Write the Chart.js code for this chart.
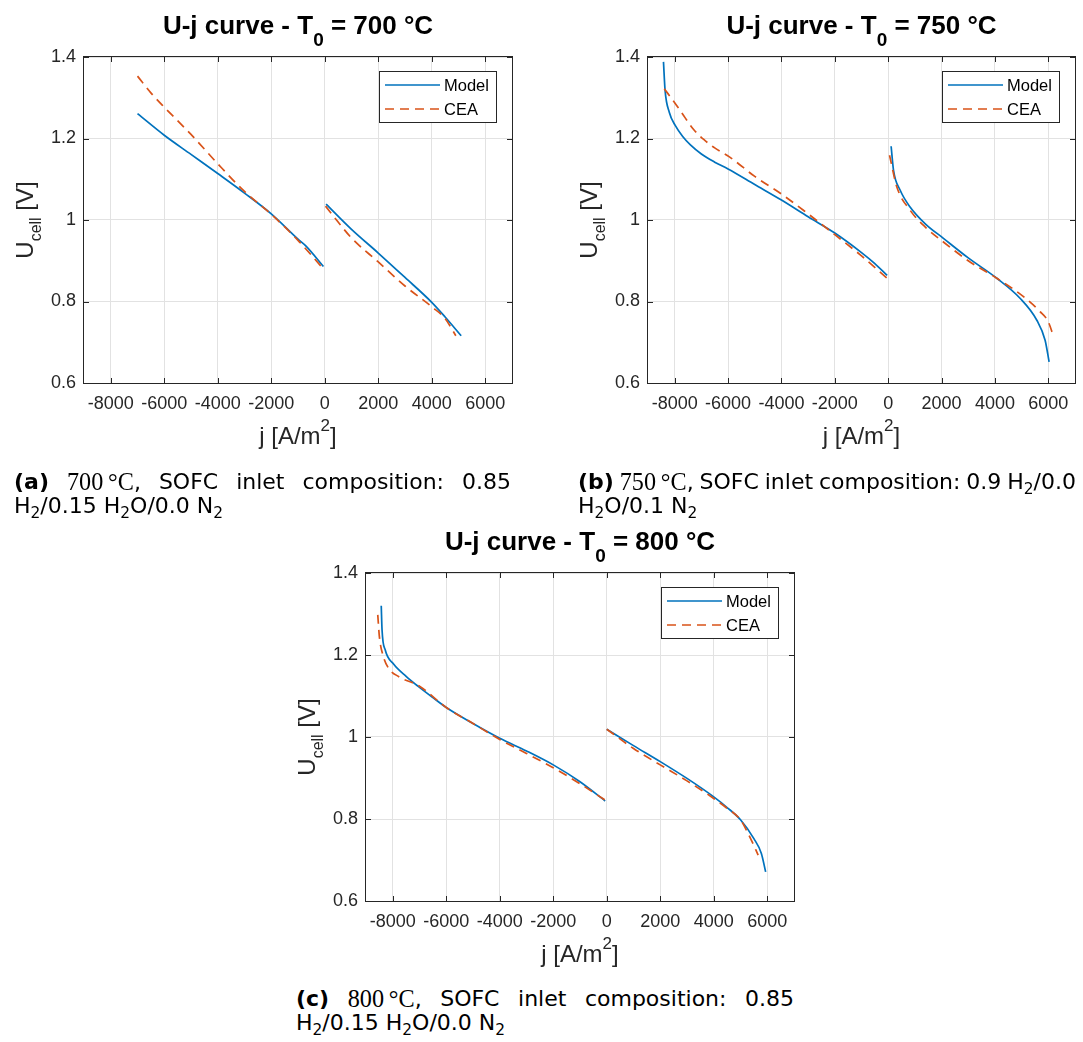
<!DOCTYPE html>
<html>
<head>
<meta charset="utf-8">
<script src="https://cdn.jsdelivr.net/npm/chart.js@4.4.1/dist/chart.umd.min.js"></script>
<style>
  html, body { margin: 0; padding: 0; background: #fff; }
  #page { position: relative; width: 1083px; height: 1042px; overflow: hidden; }
  canvas { position: absolute; }
  .cap { position: absolute; font-family: "DejaVu Sans", sans-serif; font-size: 22px; line-height: 23px; color: #000; }
  .l1 { display: flex; justify-content: space-between; white-space: nowrap; }
  .serif { font-family: "Liberation Serif", serif; font-size: 1.1em; }
  sub { font-size: 0.7em; vertical-align: -0.3em; line-height: 0; }
</style>
</head>
<body>
<div id="page">
  <canvas id="chartA" width="540" height="460" style="left:0px;top:0px"></canvas>
  <canvas id="chartB" width="519" height="460" style="left:564px;top:0px"></canvas>
  <canvas id="chartC" width="540" height="460" style="left:282px;top:516px"></canvas>

  <div class="cap" style="left:14px;top:470px;width:497px">
    <div class="l1"><span><b>(a)</b></span><span><span class="serif">700&thinsp;°C</span>,</span><span>SOFC</span><span>inlet</span><span>composition:</span><span>0.85</span></div>
    <div>H<sub>2</sub>/0.15 H<sub>2</sub>O/0.0 N<sub>2</sub></div>
  </div>
  <div class="cap" style="left:578px;top:470px;width:498px">
    <div class="l1"><span><b>(b)</b></span><span><span class="serif">750&thinsp;°C</span>,</span><span>SOFC</span><span>inlet</span><span>composition:</span><span>0.9</span><span>H<sub>2</sub>/0.0</span></div>
    <div>H<sub>2</sub>O/0.1 N<sub>2</sub></div>
  </div>
  <div class="cap" style="left:296px;top:987px;width:498px">
    <div class="l1"><span><b>(c)</b></span><span><span class="serif">800&thinsp;°C</span>,</span><span>SOFC</span><span>inlet</span><span>composition:</span><span>0.85</span></div>
    <div>H<sub>2</sub>/0.15 H<sub>2</sub>O/0.0 N<sub>2</sub></div>
  </div>
</div>

<script>
const xTicks = [-8000, -6000, -4000, -2000, 0, 2000, 4000, 6000];
const yTicks = [0.6, 0.8, 1, 1.2, 1.4];
const xMin = -9000;
const xMax = 7000;
const seriesNames = ["Model", "CEA"];
const temps = [700, 750, 800];

// 700 °C  (null = hueco entre rama negativa y positiva)
const j700Model = [-7000, -6000, -5000, -4000, -3000, -2000, -1000, -700, -50, null, 50, 1000, 2000, 3000, 4000, 4500, 5100];
const u700Model = [1.261, 1.208, 1.161, 1.114, 1.066, 1.015, 0.953, 0.936, 0.886, null, 1.039, 0.977, 0.919, 0.859, 0.798, 0.762, 0.716];
const j700Cea = [-7000, -6500, -6000, -5000, -4000, -3000, -2000, -1000, -50, null, 30, 500, 1000, 2000, 3000, 4000, 4500, 4900];
const u700Cea = [1.353, 1.312, 1.277, 1.210, 1.138, 1.070, 1.014, 0.950, 0.880, null, 1.034, 0.995, 0.956, 0.897, 0.838, 0.787, 0.758, 0.716];

// 750 °C
const j750Model = [-8420, -8360, -8200, -7980, -7700, -7420, -7000, -6500, -6000, -5000, -4000, -3000, -2000, -1000, -500, -40, null, 110, 200, 450, 820, 1400, 2070, 3000, 4070, 4940, 5570, 5880, 6030];
const u750Model = [1.388, 1.318, 1.264, 1.232, 1.205, 1.185, 1.162, 1.142, 1.125, 1.087, 1.049, 1.008, 0.968, 0.920, 0.893, 0.864, null, 1.181, 1.122, 1.073, 1.032, 0.990, 0.955, 0.907, 0.857, 0.808, 0.754, 0.705, 0.652];
const j750Cea = [-8390, -7980, -7600, -7290, -6900, -6500, -5950, -5000, -3940, -3000, -2000, -1000, -40, null, 50, 325, 820, 1400, 2070, 3000, 4070, 5070, 5690, 6000, 6200];
const u750Cea = [1.322, 1.286, 1.250, 1.222, 1.197, 1.177, 1.155, 1.107, 1.061, 1.015, 0.964, 0.912, 0.857, null, 1.159, 1.081, 1.024, 0.982, 0.946, 0.900, 0.857, 0.812, 0.775, 0.750, 0.713];

// 800 °C
const j800Model = [-8430, -8400, -8280, -7970, -7500, -7060, -6500, -6000, -5000, -4000, -3000, -2000, -1000, -60, null, 0, 1000, 2000, 3000, 4000, 4500, 5000, 5500, 5780, 5940];
const u800Model = [1.320, 1.261, 1.212, 1.178, 1.148, 1.124, 1.096, 1.072, 1.033, 0.997, 0.966, 0.932, 0.891, 0.844, null, 1.019, 0.979, 0.940, 0.899, 0.854, 0.828, 0.798, 0.752, 0.716, 0.671];
const j800Cea = [-8560, -8500, -8350, -8160, -7770, -7000, -6000, -5000, -4000, -3000, -2000, -1000, -60, null, 0, 1000, 2000, 3000, 4000, 4500, 5000, 5400, 5660];
const u800Cea = [1.298, 1.245, 1.196, 1.168, 1.147, 1.124, 1.072, 1.033, 0.994, 0.960, 0.925, 0.886, 0.846, null, 1.019, 0.972, 0.932, 0.893, 0.850, 0.826, 0.798, 0.749, 0.712];

const azul = "#0072BD";
const naranja = "#D95319";
const gris = "#262626";
const guion = [9, 6];
const fuente = '"Liberation Sans", Arial, Helvetica, sans-serif';

const puntos = (js, us) => js.map((j, i) => ({ x: j === null ? 0 : j, y: us[i] }));

// texto con sub/superindices: [texto, tamaño, dy, negrita]
const dibujarTexto = (ctx, partes, x, y) => {
  let total = 0;
  partes.forEach((p) => {
    ctx.font = `${p[3] ? "bold " : ""}${p[1]}px ${fuente}`;
    total += ctx.measureText(p[0]).width;
  });
  let cx = x - total / 2;
  partes.forEach((p) => {
    ctx.font = `${p[3] ? "bold " : ""}${p[1]}px ${fuente}`;
    ctx.fillText(p[0], cx, y + p[2]);
    cx += ctx.measureText(p[0]).width;
  });
};

const marco = {
  id: "marco",
  beforeDatasetsDraw(chart) {
    const { ctx, chartArea: a, scales } = chart;
    ctx.save();
    ctx.strokeStyle = gris;
    ctx.lineWidth = 1;
    ctx.beginPath();
    xTicks.forEach((v) => {
      const px = Math.round(scales.x.getPixelForValue(v)) + 0.5;
      ctx.moveTo(px, a.bottom); ctx.lineTo(px, a.bottom - 5);
      ctx.moveTo(px, a.top); ctx.lineTo(px, a.top + 5);
    });
    yTicks.forEach((v) => {
      const py = Math.round(scales.y.getPixelForValue(v)) + 0.5;
      ctx.moveTo(a.left, py); ctx.lineTo(a.left + 5, py);
      ctx.moveTo(a.right, py); ctx.lineTo(a.right - 5, py);
    });
    ctx.stroke();
    ctx.strokeRect(a.left - 0.5, a.top - 0.5, a.right - a.left + 1, a.bottom - a.top + 1);
    ctx.restore();
  },
  afterDraw(chart, args, opts) {
    const { ctx, chartArea: a } = chart;
    const cx = (a.left + a.right) / 2;
    ctx.save();
    ctx.textBaseline = "alphabetic";
    ctx.textAlign = "left";

    ctx.fillStyle = "#000";
    dibujarTexto(ctx, [["U-j curve - T", 26, 0, true], ["0", 19, 12, true], [` = ${opts.temp} °C`, 26, 0, true]], cx, a.top - 23);

    ctx.fillStyle = gris;
    dibujarTexto(ctx, [["j [A/m", 24, 0], ["2", 17, -13], ["]", 24, 0]], cx, a.bottom + 61);

    ctx.save();
    ctx.translate(a.left - 51, (a.top + a.bottom) / 2);
    ctx.rotate(-Math.PI / 2);
    dibujarTexto(ctx, [["U", 24, 0], ["cell", 16, 8], [" [V]", 24, 0]], 0, 0);
    ctx.restore();

    // leyenda
    const lx = a.right - 133, ly = a.top + 14;
    ctx.fillStyle = "#fff";
    ctx.fillRect(lx, ly, 117, 51);
    ctx.strokeStyle = gris;
    ctx.lineWidth = 1;
    ctx.strokeRect(lx + 0.5, ly + 0.5, 117, 51);
    ctx.font = `16.5px ${fuente}`;
    ctx.textBaseline = "middle";
    chart.data.datasets.forEach((ds, i) => {
      const ry = ly + 14 + 24 * i;
      ctx.strokeStyle = ds.borderColor;
      ctx.lineWidth = ds.borderWidth;
      ctx.setLineDash(ds.borderDash || []);
      ctx.beginPath();
      ctx.moveTo(lx + 6, ry);
      ctx.lineTo(lx + 61, ry);
      ctx.stroke();
      ctx.setLineDash([]);
      ctx.fillStyle = "#000";
      ctx.fillText(ds.label, lx + 65, ry + 1);
    });
    ctx.restore();
  },
};

const crearGrafico = (canvasId, temp, jModel, uModel, jCea, uCea, padRight, alturaX) => {
  new Chart(document.getElementById(canvasId), {
    type: "line",
    data: {
      datasets: [
        {
          label: seriesNames[0],
          data: puntos(jModel, uModel),
          borderColor: azul,
          borderWidth: 1.7,
          pointRadius: 0,
          cubicInterpolationMode: "monotone",
          order: 1,
        },
        {
          label: seriesNames[1],
          data: puntos(jCea, uCea),
          borderColor: naranja,
          borderWidth: 1.7,
          borderDash: guion,
          pointRadius: 0,
          cubicInterpolationMode: "monotone",
          order: 0,
        },
      ],
    },
    options: {
      responsive: false,
      animation: false,
      devicePixelRatio: 1,
      layout: { padding: { left: 0, top: 57, right: padRight, bottom: 0 } },
      plugins: { legend: { display: false }, tooltip: { enabled: false }, marco: { temp } },
      scales: {
        x: {
          type: "linear",
          min: xMin,
          max: xMax,
          afterBuildTicks: (s) => { s.ticks = xTicks.map((v) => ({ value: v })); },
          afterFit: (s) => { s.height = alturaX; },
          grid: { color: "#e2e2e2", lineWidth: 1, drawTicks: false },
          border: { display: false },
          ticks: { color: gris, font: { family: fuente, size: 18 }, padding: 10, maxRotation: 0, autoSkip: false, callback: (v) => String(v) },
        },
        y: {
          type: "linear",
          min: 0.6,
          max: 1.4,
          afterBuildTicks: (s) => { s.ticks = yTicks.map((v) => ({ value: v })); },
          afterFit: (s) => { s.width = 84; },
          grid: { color: "#e2e2e2", lineWidth: 1, drawTicks: false },
          border: { display: false },
          ticks: { color: gris, font: { family: fuente, size: 18 }, padding: 8, callback: (v) => String(v) },
        },
      },
    },
    plugins: [marco],
  });
};

crearGrafico("chartA", temps[0], j700Model, u700Model, j700Cea, u700Cea, 28, 77);
crearGrafico("chartB", temps[1], j750Model, u750Model, j750Cea, u750Cea, 8, 77);
crearGrafico("chartC", temps[2], j800Model, u800Model, j800Cea, u800Cea, 28, 75);
</script>
</body>
</html>
